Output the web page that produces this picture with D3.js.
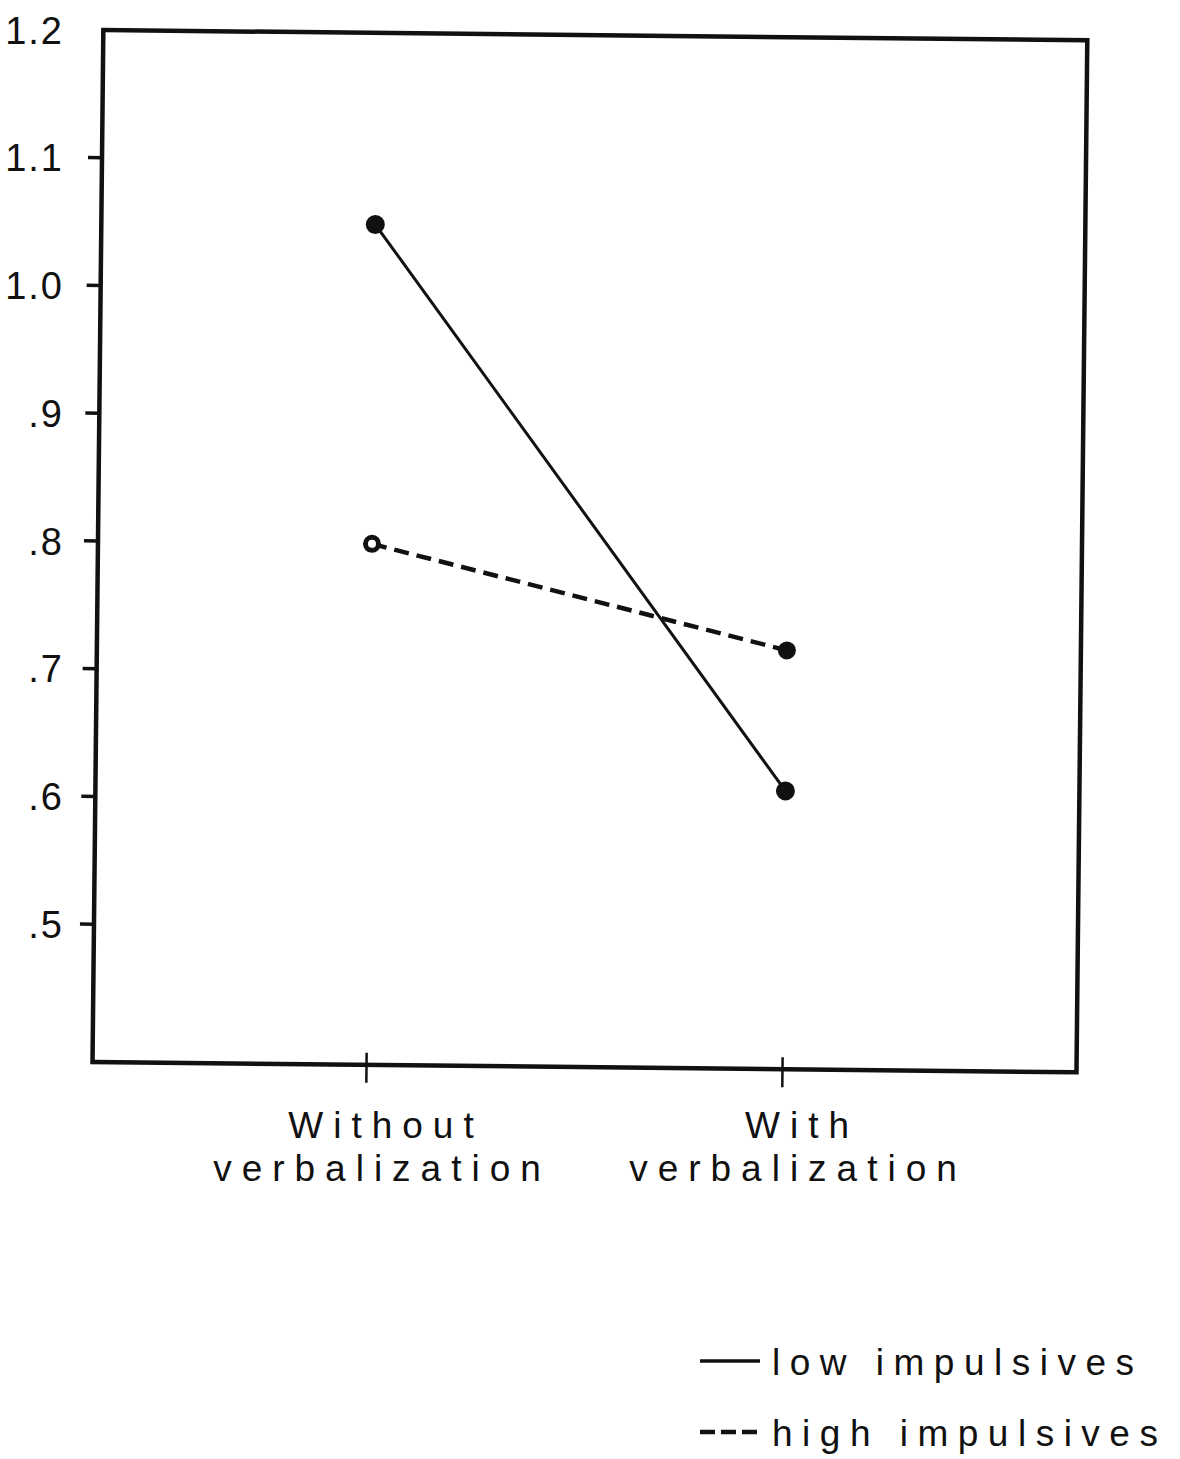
<!DOCTYPE html>
<html>
<head>
<meta charset="utf-8">
<script src="https://cdn.jsdelivr.net/npm/d3@7"></script>
<style>
  body { margin: 0; background: #fff; }
  text { font-family: "Liberation Sans", Arial, sans-serif; fill: #111; }
</style>
</head>
<body>
<div id="chart"></div>
<script>
// Data
const conditions = ["Without verbalization", "With verbalization"];
const conditionLines = [["Without", "verbalization"], ["With", "verbalization"]];
const lowImpulsives = [1.05, 0.61];
const highImpulsives = [0.80, 0.72];
const yTicks = [1.1, 1.0, 0.9, 0.8, 0.7, 0.6, 0.5];
const yTickLabels = ["1.1", "1.0", ".9", ".8", ".7", ".6", ".5"];
const seriesNames = ["low impulsives", "high impulsives"];

const width = 1180;
const height = 1459;
const frame = { left: 98, right: 1082, bottom: 1062 };

const svg = d3.select("#chart")
  .append("svg")
  .attr("width", width)
  .attr("height", height);

// Scales
const yScale = d3.scaleLinear().domain([0.4, 1.2]).range([1052, 30]);
const xScale = d3.scalePoint().domain(conditions).range([372, 788]);

// The scan is tilted slightly clockwise
const plot = svg.append("g")
  .attr("transform", "rotate(0.6, 98, 540)");

// Frame
plot.append("rect")
  .attr("x", frame.left)
  .attr("y", yScale(1.2))
  .attr("width", frame.right - frame.left)
  .attr("height", frame.bottom - yScale(1.2))
  .attr("fill", "none")
  .attr("stroke", "#111")
  .attr("stroke-width", 4.5);

// Y ticks (left of frame)
plot.selectAll(".ytick")
  .data(yTicks)
  .enter()
  .append("line")
  .attr("x1", frame.left - 14)
  .attr("x2", frame.left)
  .attr("y1", d => yScale(d))
  .attr("y2", d => yScale(d))
  .attr("stroke", "#111")
  .attr("stroke-width", 3.5);

// X ticks crossing the bottom line
plot.selectAll(".xtick")
  .data(conditions)
  .enter()
  .append("line")
  .attr("x1", d => xScale(d))
  .attr("x2", d => xScale(d))
  .attr("y1", frame.bottom - 12)
  .attr("y2", frame.bottom + 18)
  .attr("stroke", "#111")
  .attr("stroke-width", 2.5);

const line = d3.line()
  .x((d, i) => xScale(conditions[i]))
  .y(d => yScale(d));

// low impulsives: solid
plot.append("path")
  .datum(lowImpulsives)
  .attr("d", line)
  .attr("fill", "none")
  .attr("stroke", "#111")
  .attr("stroke-width", 3);

// high impulsives: dashed
plot.append("path")
  .datum(highImpulsives)
  .attr("d", line)
  .attr("fill", "none")
  .attr("stroke", "#111")
  .attr("stroke-width", 4.5)
  .attr("stroke-dasharray", "15 8");

plot.selectAll(".low-dot")
  .data(lowImpulsives)
  .enter()
  .append("circle")
  .attr("cx", (d, i) => xScale(conditions[i]))
  .attr("cy", d => yScale(d))
  .attr("r", 9.5)
  .attr("fill", "#111");

// first high point is drawn as a ring in the original, second filled
plot.selectAll(".high-dot")
  .data(highImpulsives)
  .enter()
  .append("circle")
  .attr("cx", (d, i) => xScale(conditions[i]))
  .attr("cy", d => yScale(d))
  .attr("r", (d, i) => i === 0 ? 6.5 : 9)
  .attr("fill", (d, i) => i === 0 ? "#fff" : "#111")
  .attr("stroke", "#111")
  .attr("stroke-width", (d, i) => i === 0 ? 5 : 0);

// Y tick labels (not rotated)
svg.selectAll(".ylabel")
  .data([1.2].concat(yTicks))
  .enter()
  .append("text")
  .attr("x", 64)
  .attr("y", d => yScale(d))
  .attr("dy", "0.36em")
  .attr("text-anchor", "end")
  .attr("font-size", 38)
  .style("letter-spacing", "2px")
  .text((d, i) => i === 0 ? "1.2" : yTickLabels[i - 1]);

// X category labels
conditions.forEach((c, i) => {
  const t = svg.append("text")
    .attr("y", 1138)
    .attr("text-anchor", "middle")
    .attr("font-size", 37)
    .style("letter-spacing", "10px");
  t.append("tspan").attr("x", xScale(c) + 14).text(conditionLines[i][0]);
  t.append("tspan").attr("x", xScale(c) + 10).attr("dy", 43).text(conditionLines[i][1]);
});

// Legend
const legend = svg.append("g");
seriesNames.forEach((name, i) => {
  const y = 1361 + i * 71;
  legend.append("line")
    .attr("x1", 700)
    .attr("x2", 760)
    .attr("y1", y)
    .attr("y2", y)
    .attr("stroke", "#111")
    .attr("stroke-width", i === 0 ? 3.5 : 4.5)
    .attr("stroke-dasharray", i === 0 ? null : "15 6");
  legend.append("text")
    .attr("x", 772)
    .attr("y", y + 14)
    .attr("font-size", 37)
    .style("letter-spacing", "9.5px")
    .text(name);
});
</script>
</body>
</html>
